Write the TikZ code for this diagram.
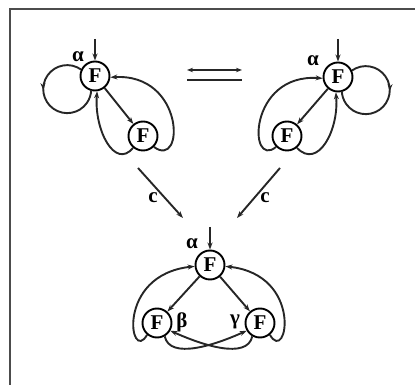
\documentclass[tikz,border=0pt]{standalone}
\usepackage{fontspec}
\setmainfont{Liberation Serif}
\usetikzlibrary{arrows.meta,decorations.markings}
\begin{document}
\begin{tikzpicture}[x=1pt,y=1pt,
  fnode/.style={circle,draw,line width=1.9pt,minimum size=29pt,inner sep=0pt,font=\fontsize{21}{21}\selectfont\bfseries},
  ln/.style={line width=1.9pt,black!85},
  tip/.style={-{Stealth[length=7pt,width=5pt]}},
  lbl/.style={font=\fontsize{21}{21}\selectfont\bfseries,inner sep=0pt},
  frame/.style={line width=2.8pt,black!70},
  midarr/.style={postaction={decorate},decoration={markings,mark=at position #1 with {\arrow{Stealth[length=7pt,width=5pt]}}}}
]
\useasboundingbox (0,0) rectangle (415,385);
% frame
\coordinate (fbl) at (10,0);
\coordinate (ftl) at (10,376);
\coordinate (ftr) at (415,376);
\draw[frame] (fbl) -- (ftl) -- (ftr);

% ---------- top-left group ----------
\node[fnode] (A1) at (95,309) {F};
\node[fnode] (B1) at (143,249) {F};
\coordinate (in1) at (95,346);
\node[lbl] (al1) at (78,328) {α};
\draw[ln,tip] (in1) -- (A1);
\draw[ln,tip] (A1) -- (B1);
\draw[ln,midarr=0.42] (A1.155) arc[start angle=55,end angle=358,radius=24pt];
\draw[ln,tip] (B1.230) .. controls (115,215) and (94,255) .. (A1.278);
\draw[ln,tip] (B1.-45) .. controls (185,215) and (185,312) .. (A1.-5);

% ---------- top-right group ----------
\node[fnode] (A2) at (338,308) {F};
\node[fnode] (B2) at (287,249) {F};
\coordinate (in2) at (338,346);
\node[lbl] (al2) at (313,324) {α};
\draw[ln,tip] (in2) -- (A2);
\draw[ln,tip] (A2) -- (B2);
\draw[ln,midarr=0.42] (A2.25) arc[start angle=125,end angle=-178,radius=24pt];
\draw[ln,tip] (B2.-50) .. controls (318,215) and (339,255) .. (A2.262);
\draw[ln,tip] (B2.225) .. controls (248,215) and (248,312) .. (A2.185);

% ---------- equilibrium arrows ----------
\coordinate (e1a) at (187,315);
\coordinate (e1b) at (242,315);
\coordinate (e2a) at (187,305);
\coordinate (e2b) at (242,305);
\draw[ln,{Stealth[length=6pt,width=4.5pt]}-{Stealth[length=6pt,width=4.5pt]}] (e1a) -- (e1b);
\draw[ln] (e2a) -- (e2b);

% ---------- c arrows ----------
\coordinate (c1s) at (138,217);
\coordinate (c1e) at (183,167);
\coordinate (c2s) at (280,217);
\coordinate (c2e) at (237,167);
\draw[ln,tip] (c1s) -- (c1e);
\draw[ln,tip] (c2s) -- (c2e);
\node[lbl] (cl1) at (153,187) {c};
\node[lbl] (cl2) at (265,187) {c};

% ---------- bottom group ----------
\node[fnode] (A3) at (210,120) {F};
\node[fnode] (L) at (157,62) {F};
\node[fnode] (R) at (260,62) {F};
\coordinate (in3) at (210,158);
\node[lbl] (al3) at (192,141) {α};
\node[lbl] (be) at (182,63) {β};
\node[lbl] (ga) at (235,63) {γ};
\draw[ln,tip] (in3) -- (A3);
\draw[ln,tip] (A3) -- (L);
\draw[ln,tip] (A3) -- (R);
\draw[ln,tip] (L.230) .. controls (130,20) and (115,110) .. (A3.185);
\draw[ln,tip] (R.-50) .. controls (287,20) and (304,110) .. (A3.-5);
\draw[ln,tip] (L.-60) .. controls (170,25) and (215,40) .. (R.210);
\draw[ln,tip] (R.240) .. controls (247,25) and (202,40) .. (L.-30);
\end{tikzpicture}
\end{document}
